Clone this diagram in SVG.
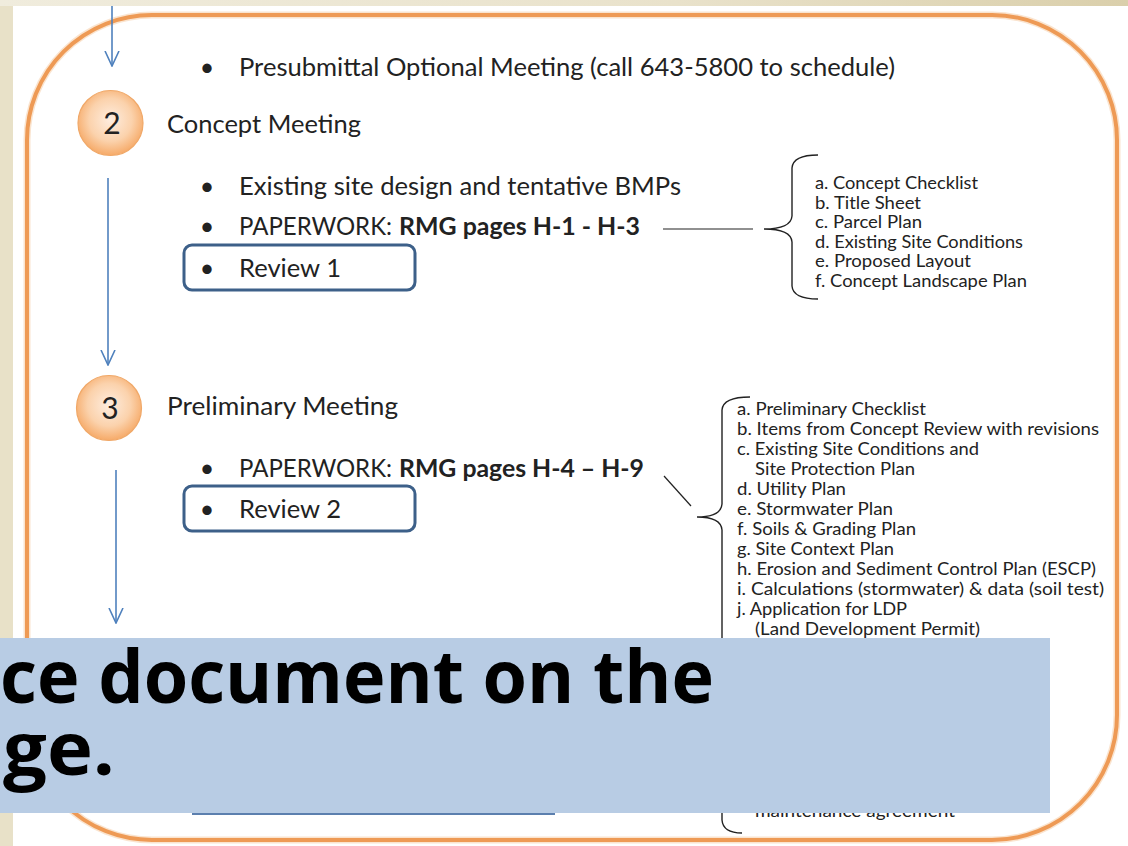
<svg xmlns="http://www.w3.org/2000/svg" width="1128" height="846" viewBox="0 0 1128 846">
<defs>
<style>
.t{font-family:Lato,"Open Sans","Liberation Sans",sans-serif;fill:#222;}
.m{font-size:25px;}
.b{font-weight:700;}
.l{font-size:18px;}
.bu{font-family:Lato,"Open Sans","Liberation Sans",sans-serif;font-size:25px;fill:#222;text-anchor:middle;}
.dig{font-family:Lato,"Open Sans","Liberation Sans",sans-serif;font-size:30px;fill:#222;text-anchor:middle;}
.arrow{stroke:#4F81BD;stroke-width:1.6;fill:none;marker-end:url(#ah);}
.box{fill:#fff;stroke:#3D6089;stroke-width:3;}
.br{fill:none;stroke:#222;stroke-width:1.4;}
.ln{fill:none;stroke:#222;stroke-width:1.2;}
.circ{fill:url(#cg);stroke:#F0A868;stroke-width:1.2;}
.ban{font-family:"Open Sans","Liberation Sans",sans-serif;font-weight:700;font-size:74px;fill:#000;}
</style>
<linearGradient id="topg" x1="0" y1="0" x2="1" y2="0">
<stop offset="0" stop-color="#F0ECDD"/>
<stop offset="0.6" stop-color="#E9E2CB"/>
<stop offset="1" stop-color="#DACFAB"/>
</linearGradient>
<radialGradient id="cg" cx="0.5" cy="0.45" r="0.55">
<stop offset="0" stop-color="#FEEDDF"/>
<stop offset="0.6" stop-color="#FBD2AC"/>
<stop offset="1" stop-color="#F6AA68"/>
</radialGradient>
<marker id="ah" viewBox="0 -8 16 16" refX="15" refY="0" markerWidth="16" markerHeight="16" markerUnits="userSpaceOnUse" orient="auto">
<path d="M0,-7 L15,0 L0,7" fill="none" stroke="#4F81BD" stroke-width="1.6"/>
</marker>
</defs>

<g id="background">
<rect x="0" y="0" width="1128" height="846" fill="#E8E1C8"/>
<rect x="0" y="0" width="1128" height="6" fill="url(#topg)"/>
<rect x="13" y="6" width="1115" height="840" fill="#FFFFFF"/>
</g>

<g id="frame">
<rect x="27" y="15" width="1090" height="825" rx="125" ry="125" fill="none" stroke="#F6C9A0" stroke-width="7" opacity="0.5"/>
<rect x="27" y="15" width="1090" height="825" rx="125" ry="125" fill="none" stroke="#EE9A55" stroke-width="4"/>
</g>

<g id="connectors">
<path class="arrow" d="M112,6 L112,66"/>
<path class="arrow" d="M108,178 L108,365"/>
<path class="arrow" d="M116,470 L116,623"/>
<path class="ln" d="M663,229 L753,229"/>
<path class="ln" d="M664,476 L691,506"/>
</g>

<g id="presubmittal">
<text class="bu" x="207" y="76">•</text>
<text class="t m" x="239" y="76" textLength="656" lengthAdjust="spacingAndGlyphs">Presubmittal Optional Meeting (call 643-5800 to schedule)</text>
</g>

<g id="step2">
<circle class="circ" cx="110.5" cy="123" r="32.5"/>
<text class="dig" x="112" y="134">2</text>
<text class="t m" x="167" y="133" textLength="194" lengthAdjust="spacingAndGlyphs">Concept Meeting</text>
</g>

<g id="concept-items">
<text class="bu" x="207" y="195">•</text>
<text class="t m" x="239" y="195" textLength="442" lengthAdjust="spacingAndGlyphs">Existing site design and tentative BMPs</text>
<text class="bu" x="207" y="235">•</text>
<text class="t m" x="239" y="235" textLength="153" lengthAdjust="spacingAndGlyphs">PAPERWORK:</text>
<text class="t m b" x="399" y="235" textLength="241" lengthAdjust="spacingAndGlyphs">RMG pages H-1 - H-3</text>
</g>

<g id="review1">
<rect class="box" x="184" y="245" width="231" height="45" rx="8"/>
<text class="bu" x="207" y="277">•</text>
<text class="t m" x="239" y="277" textLength="102" lengthAdjust="spacingAndGlyphs">Review 1</text>
</g>

<g id="concept-list">
<path class="br" d="M818,155 Q793,155 792,168 L792,216 Q791,229 764,229 Q791,229 792,242 L792,286 Q793,299 818,299"/>
<text class="t l" x="815" y="189" textLength="163" lengthAdjust="spacingAndGlyphs">a. Concept Checklist</text>
<text class="t l" x="815" y="208.6" textLength="106" lengthAdjust="spacingAndGlyphs">b. Title Sheet</text>
<text class="t l" x="815" y="228.2" textLength="107" lengthAdjust="spacingAndGlyphs">c. Parcel Plan</text>
<text class="t l" x="815" y="247.8" textLength="208" lengthAdjust="spacingAndGlyphs">d. Existing Site Conditions</text>
<text class="t l" x="815" y="267.4" textLength="156" lengthAdjust="spacingAndGlyphs">e. Proposed Layout</text>
<text class="t l" x="815" y="287" textLength="212" lengthAdjust="spacingAndGlyphs">f. Concept Landscape Plan</text>
</g>

<g id="step3">
<circle class="circ" cx="109" cy="408" r="32.5"/>
<text class="dig" x="110" y="419">3</text>
<text class="t m" x="167" y="415" textLength="231" lengthAdjust="spacingAndGlyphs">Preliminary Meeting</text>
</g>

<g id="preliminary-items">
<text class="bu" x="207" y="477">•</text>
<text class="t m" x="239" y="477" textLength="153" lengthAdjust="spacingAndGlyphs">PAPERWORK:</text>
<text class="t m b" x="399" y="477" textLength="245" lengthAdjust="spacingAndGlyphs">RMG pages H-4 – H-9</text>
</g>

<g id="review2">
<rect class="box" x="184" y="486" width="231" height="45" rx="8"/>
<text class="bu" x="207" y="518">•</text>
<text class="t m" x="239" y="518" textLength="102" lengthAdjust="spacingAndGlyphs">Review 2</text>
</g>

<g id="preliminary-list">
<path class="br" d="M750,397 Q723,397 722,410 L722,504 Q721,517 697,517 Q721,517 722,530 L722,820 Q723,833 742,833"/>
<text class="t l" x="737" y="415" textLength="189" lengthAdjust="spacingAndGlyphs">a. Preliminary Checklist</text>
<text class="t l" x="737" y="435" textLength="362" lengthAdjust="spacingAndGlyphs">b. Items from Concept Review with revisions</text>
<text class="t l" x="737" y="455" textLength="242" lengthAdjust="spacingAndGlyphs">c. Existing Site Conditions and</text>
<text class="t l" x="755" y="475" textLength="160" lengthAdjust="spacingAndGlyphs">Site Protection Plan</text>
<text class="t l" x="737" y="495" textLength="109" lengthAdjust="spacingAndGlyphs">d. Utility Plan</text>
<text class="t l" x="737" y="515" textLength="156" lengthAdjust="spacingAndGlyphs">e. Stormwater Plan</text>
<text class="t l" x="737" y="535" textLength="179" lengthAdjust="spacingAndGlyphs">f. Soils &amp; Grading Plan</text>
<text class="t l" x="737" y="555" textLength="157" lengthAdjust="spacingAndGlyphs">g. Site Context Plan</text>
<text class="t l" x="737" y="575" textLength="359" lengthAdjust="spacingAndGlyphs">h. Erosion and Sediment Control Plan (ESCP)</text>
<text class="t l" x="737" y="595" textLength="367" lengthAdjust="spacingAndGlyphs">i. Calculations (stormwater) &amp; data (soil test)</text>
<text class="t l" x="737" y="615" textLength="170" lengthAdjust="spacingAndGlyphs">j. Application for LDP</text>
<text class="t l" x="755" y="635" textLength="225" lengthAdjust="spacingAndGlyphs">(Land Development Permit)</text>
<text class="t l" x="755" y="817" textLength="200" lengthAdjust="spacingAndGlyphs">maintenance agreement</text>
</g>

<g id="hidden-box-edge">
<line x1="192" y1="814" x2="555" y2="814" stroke="#5C7FAE" stroke-width="2"/>
</g>

<g id="banner">
<rect x="0" y="638" width="1050" height="175" fill="#B8CCE4"/>
<text class="ban" x="0" y="703" textLength="714" lengthAdjust="spacingAndGlyphs">ce document on the</text>
<text class="ban" x="3" y="775" textLength="112" lengthAdjust="spacingAndGlyphs">ge.</text>
</g>
</svg>
